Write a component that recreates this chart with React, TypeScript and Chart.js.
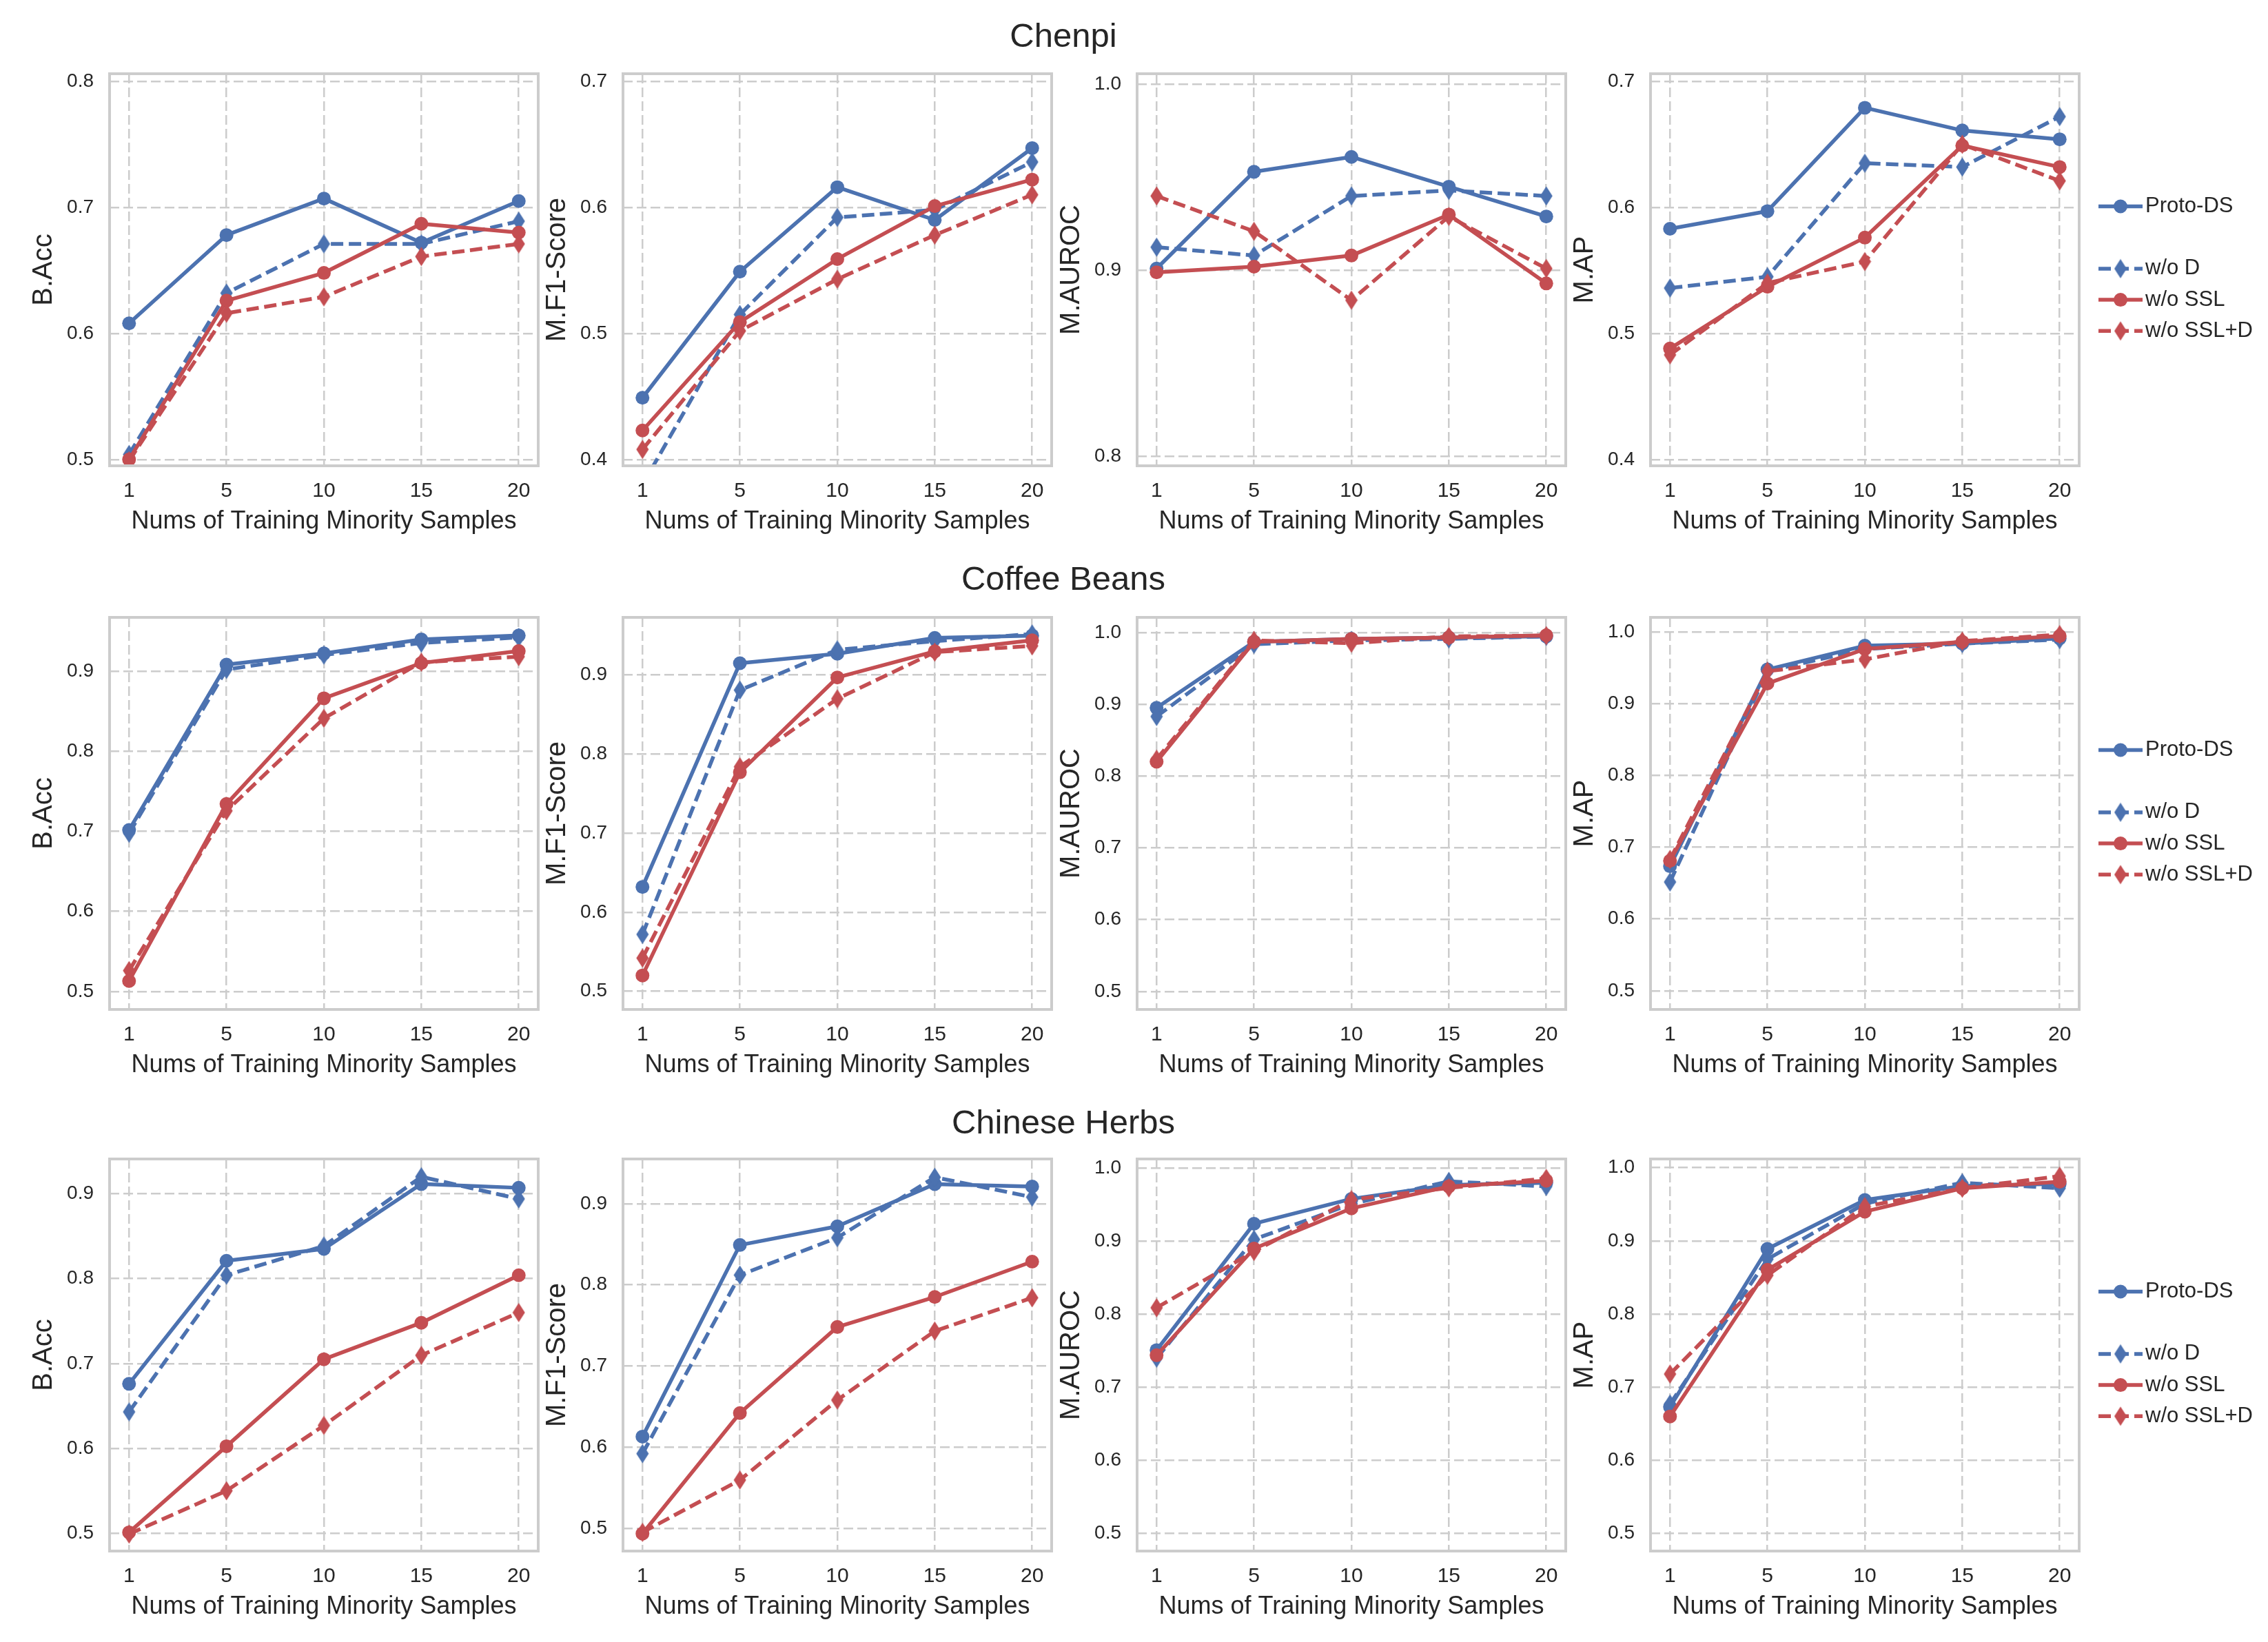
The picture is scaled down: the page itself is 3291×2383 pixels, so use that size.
import React, { useEffect, useRef } from 'react';
import { Chart, registerables } from 'chart.js';

Chart.register(...registerables);

const FONT = "'Liberation Sans', Arial, Helvetica, sans-serif";
const TEXT = '#262626';
const BLUE = '#4C72B0';
const RED = '#C44E52';
const GRID = '#cccccc';

// ---------- data ----------
const xLabels = ['1', '5', '10', '15', '20'];
const seriesNames = ['Proto-DS', 'w/o D', 'w/o SSL', 'w/o SSL+D'];
const rowTitles = ['Chenpi', 'Coffee Beans', 'Chinese Herbs'];
const metricNames = ['B.Acc', 'M.F1-Score', 'M.AUROC', 'M.AP'];
const xTitle = 'Nums of Training Minority Samples';

// each: [Proto-DS, w/o D, w/o SSL, w/o SSL+D]
const chenpiBAcc = [
  [0.608, 0.678, 0.707, 0.672, 0.705],
  [0.504, 0.632, 0.671, 0.671, 0.689],
  [0.500, 0.626, 0.648, 0.687, 0.680],
  [0.499, 0.616, 0.629, 0.661, 0.671],
];
const chenpiF1 = [
  [0.449, 0.549, 0.616, 0.590, 0.647],
  [0.380, 0.515, 0.592, 0.598, 0.636],
  [0.423, 0.509, 0.559, 0.601, 0.622],
  [0.408, 0.502, 0.543, 0.578, 0.610],
];
const chenpiAUROC = [
  [0.901, 0.953, 0.961, 0.945, 0.929],
  [0.9125, 0.908, 0.940, 0.943, 0.940],
  [0.899, 0.902, 0.908, 0.930, 0.893],
  [0.940, 0.921, 0.884, 0.929, 0.901],
];
const chenpiAP = [
  [0.583, 0.597, 0.679, 0.661, 0.654],
  [0.536, 0.545, 0.635, 0.632, 0.672],
  [0.488, 0.537, 0.576, 0.649, 0.632],
  [0.483, 0.540, 0.557, 0.650, 0.621],
];
const coffeeBAcc = [
  [0.7015, 0.908, 0.922, 0.9395, 0.9444],
  [0.6975, 0.902, 0.920, 0.935, 0.942],
  [0.513, 0.734, 0.866, 0.910, 0.925],
  [0.526, 0.7255, 0.841, 0.911, 0.918],
];
const coffeeF1 = [
  [0.632, 0.915, 0.927, 0.947, 0.950],
  [0.572, 0.881, 0.932, 0.943, 0.952],
  [0.520, 0.777, 0.897, 0.930, 0.944],
  [0.542, 0.784, 0.870, 0.929, 0.937],
];
const coffeeAUROC = [
  [0.895, 0.987, 0.991, 0.993, 0.9945],
  [0.883, 0.9835, 0.989, 0.991, 0.9945],
  [0.820, 0.987, 0.991, 0.993, 0.996],
  [0.8235, 0.989, 0.985, 0.9945, 0.9956],
];
const coffeeAP = [
  [0.6735, 0.9475, 0.9806, 0.9835, 0.9908],
  [0.6515, 0.945, 0.976, 0.9835, 0.989],
  [0.681, 0.928, 0.976, 0.986, 0.994],
  [0.683, 0.945, 0.9615, 0.987, 0.996],
];
const herbsBAcc = [
  [0.676, 0.821, 0.835, 0.9115, 0.907],
  [0.643, 0.804, 0.8385, 0.920, 0.894],
  [0.501, 0.6025, 0.705, 0.748, 0.804],
  [0.499, 0.550, 0.627, 0.7096, 0.760],
];
const herbsF1 = [
  [0.613, 0.849, 0.872, 0.924, 0.921],
  [0.592, 0.812, 0.858, 0.9325, 0.908],
  [0.4935, 0.642, 0.748, 0.785, 0.8285],
  [0.495, 0.5595, 0.658, 0.743, 0.784],
];
const herbsAUROC = [
  [0.751, 0.924, 0.958, 0.977, 0.980],
  [0.740, 0.9025, 0.951, 0.982, 0.975],
  [0.744, 0.890, 0.945, 0.975, 0.983],
  [0.809, 0.886, 0.957, 0.973, 0.986],
];
const herbsAP = [
  [0.673, 0.889, 0.956, 0.975, 0.978],
  [0.677, 0.875, 0.951, 0.9795, 0.972],
  [0.660, 0.8605, 0.940, 0.972, 0.981],
  [0.718, 0.853, 0.947, 0.972, 0.9885],
];

// axis limits and ticks per row / column
const yMinRows = [
  [0.495, 0.395, 0.795, 0.395],
  [0.4775, 0.477, 0.475, 0.474],
  [0.479, 0.472, 0.476, 0.476],
];
const yMaxRows = [
  [0.806, 0.706, 1.0057, 0.706],
  [0.967, 0.973, 1.021, 1.02],
  [0.941, 0.955, 1.0126, 1.012],
];
const ticksBAccChenpi = [0.5, 0.6, 0.7, 0.8];
const ticksLowChenpi = [0.4, 0.5, 0.6, 0.7];
const ticksAurocChenpi = [0.8, 0.9, 1.0];
const ticksTo09 = [0.5, 0.6, 0.7, 0.8, 0.9];
const ticksTo10 = [0.5, 0.6, 0.7, 0.8, 0.9, 1.0];

const DATA = [
  [chenpiBAcc, chenpiF1, chenpiAUROC, chenpiAP],
  [coffeeBAcc, coffeeF1, coffeeAUROC, coffeeAP],
  [herbsBAcc, herbsF1, herbsAUROC, herbsAP],
];
const TICKS = [
  [ticksBAccChenpi, ticksLowChenpi, ticksAurocChenpi, ticksLowChenpi],
  [ticksTo09, ticksTo09, ticksTo10, ticksTo10],
  [ticksTo09, ticksTo09, ticksTo10, ticksTo10],
];

// ---------- layout ----------
const PAGE_W = 3291;
const PAGE_H = 2383;
const FRAME_LEFT = [159, 904, 1650, 2395];
const FRAME_W = 622;
const FRAME_TOP = [107, 896, 1682];
const FRAME_H = 569;
const AX_W = 140;
const AX_H = 110;
const PAD_T = 48;
const PAD_R = 12;
const TITLE_Y = [52, 840, 1629];
const TITLE_X = 1543;

const seriesColors = [BLUE, BLUE, RED, RED];
const seriesDashed = [false, true, false, true];
const seriesDiamond = [false, true, false, true];
const legendSlots = [0, 2, 3, 4];

function makeDiamond(color: string): HTMLCanvasElement {
  const c = document.createElement('canvas');
  c.width = 19;
  c.height = 29;
  const g = c.getContext('2d')!;
  g.fillStyle = color;
  g.beginPath();
  g.moveTo(9.5, 0.5);
  g.lineTo(18.5, 14.5);
  g.lineTo(9.5, 28.5);
  g.lineTo(0.5, 14.5);
  g.closePath();
  g.fill();
  return c;
}

const framePlugin = {
  id: 'frameBox',
  afterDatasetsDraw(chart: any) {
    const { ctx, chartArea: a } = chart;
    ctx.save();
    ctx.strokeStyle = GRID;
    ctx.lineWidth = 4;
    ctx.setLineDash([]);
    ctx.strokeRect(a.left, a.top, a.right - a.left, a.bottom - a.top);
    ctx.restore();
  },
};

function makeLegendPlugin(diamonds: HTMLCanvasElement[]) {
  return {
    id: 'sideLegend',
    afterDraw(chart: any) {
      const { ctx, chartArea: a } = chart;
      ctx.save();
      seriesNames.forEach((name, i) => {
        const y = a.top + 192.5 + legendSlots[i] * 45.2;
        const x0 = a.right + 28;
        const x1 = a.right + 92;
        const xm = (x0 + x1) / 2;
        ctx.strokeStyle = seriesColors[i];
        ctx.lineWidth = 5.5;
        ctx.lineCap = 'butt';
        ctx.setLineDash(seriesDashed[i] ? [18, 8] : []);
        ctx.beginPath();
        ctx.moveTo(x0, y);
        ctx.lineTo(x1, y);
        ctx.stroke();
        ctx.setLineDash([]);
        if (seriesDiamond[i]) {
          const d = diamonds[i];
          ctx.drawImage(d, xm - d.width / 2, y - d.height / 2);
        } else {
          ctx.fillStyle = seriesColors[i];
          ctx.beginPath();
          ctx.arc(xm, y, 10, 0, Math.PI * 2);
          ctx.fill();
        }
        ctx.fillStyle = TEXT;
        ctx.font = `31px ${FONT}`;
        ctx.textBaseline = 'middle';
        ctx.textAlign = 'left';
        ctx.fillText(name, a.right + 96, y);
      });
      ctx.restore();
    },
  };
}

function SubPlot({ row, col }: { row: number; col: number }) {
  const ref = useRef<HTMLCanvasElement>(null);
  const hasLegend = col === 3;
  const R = hasLegend ? PAGE_W - (FRAME_LEFT[col] + FRAME_W) : PAD_R;
  const w = AX_W + FRAME_W + R;
  const h = PAD_T + FRAME_H + AX_H;

  useEffect(() => {
    if (!ref.current) return;
    const values = DATA[row][col];
    const yTicks = TICKS[row][col];
    const diamonds = seriesColors.map((c) => makeDiamond(c));
    const datasets = values.map((vals, i) => ({
      label: seriesNames[i],
      data: vals.map((v, j) => ({ x: j, y: v })),
      borderColor: seriesColors[i],
      backgroundColor: seriesColors[i],
      borderWidth: 5.5,
      borderDash: seriesDashed[i] ? [18, 8] : [],
      borderJoinStyle: 'round' as const,
      borderCapStyle: 'butt' as const,
      tension: 0,
      fill: false,
      pointStyle: seriesDiamond[i] ? (diamonds[i] as any) : 'circle',
      pointRadius: 10,
      pointBorderWidth: 0,
      pointBorderColor: seriesColors[i],
      pointBackgroundColor: seriesColors[i],
      clip: 0,
      order: 3 - i,
    }));

    const plugins: any[] = [framePlugin];
    if (hasLegend) plugins.push(makeLegendPlugin(diamonds));

    const chart = new Chart(ref.current, {
      type: 'line',
      data: { datasets: datasets as any },
      plugins,
      options: {
        animation: false,
        responsive: false,
        maintainAspectRatio: false,
        devicePixelRatio: 1,
        layout: { padding: { top: PAD_T, right: R, left: 0, bottom: 0 } },
        plugins: {
          legend: { display: false },
          tooltip: { enabled: false },
        },
        scales: {
          x: {
            type: 'linear',
            min: -0.2,
            max: 4.2,
            afterBuildTicks: (s: any) => {
              s.ticks = xLabels.map((_, i) => ({ value: i }));
            },
            afterFit: (s: any) => {
              s.height = AX_H;
            },
            grid: { color: GRID, lineWidth: 2.5, drawTicks: false },
            border: { display: false, dash: [14, 6] },
            ticks: {
              callback: (v: any) => xLabels[Math.round(Number(v))],
              font: { family: FONT, size: 30 },
              color: TEXT,
              padding: 19,
              autoSkip: false,
              maxRotation: 0,
            },
            title: {
              display: true,
              text: xTitle,
              font: { family: FONT, size: 36 },
              color: TEXT,
              padding: { top: 0, bottom: 7 },
            },
          },
          y: {
            type: 'linear',
            min: yMinRows[row][col],
            max: yMaxRows[row][col],
            afterBuildTicks: (s: any) => {
              s.ticks = yTicks.map((v) => ({ value: v }));
            },
            afterFit: (s: any) => {
              s.width = AX_W;
            },
            grid: { color: GRID, lineWidth: 2.5, drawTicks: false },
            border: { display: false, dash: [14, 6] },
            ticks: {
              callback: (v: any) => Number(v).toFixed(1),
              font: { family: FONT, size: 28 },
              color: TEXT,
              padding: 23,
              autoSkip: false,
            },
            title: {
              display: true,
              text: metricNames[col],
              font: { family: FONT, size: 40 },
              color: TEXT,
              padding: { top: 21, bottom: 0 },
            },
          },
        },
      } as any,
    });
    return () => chart.destroy();
  }, [row, col]);

  return (
    <canvas
      ref={ref}
      width={w}
      height={h}
      style={{
        position: 'absolute',
        left: FRAME_LEFT[col] - AX_W,
        top: FRAME_TOP[row] - PAD_T,
        width: w,
        height: h,
      }}
    />
  );
}

export default function App() {
  return (
    <div
      style={{
        position: 'absolute',
        left: 0,
        top: 0,
        width: PAGE_W,
        height: PAGE_H,
        background: '#ffffff',
        overflow: 'hidden',
      }}
    >
      {rowTitles.map((t, r) => (
        <div
          key={t}
          style={{
            position: 'absolute',
            left: TITLE_X - 500,
            width: 1000,
            top: TITLE_Y[r] - 25,
            textAlign: 'center',
            fontFamily: FONT,
            fontSize: 49,
            lineHeight: '49px',
            color: TEXT,
          }}
        >
          {t}
        </div>
      ))}
      {[0, 1, 2].map((r) =>
        [0, 1, 2, 3].map((c) => <SubPlot key={`${r}-${c}`} row={r} col={c} />)
      )}
    </div>
  );
}
